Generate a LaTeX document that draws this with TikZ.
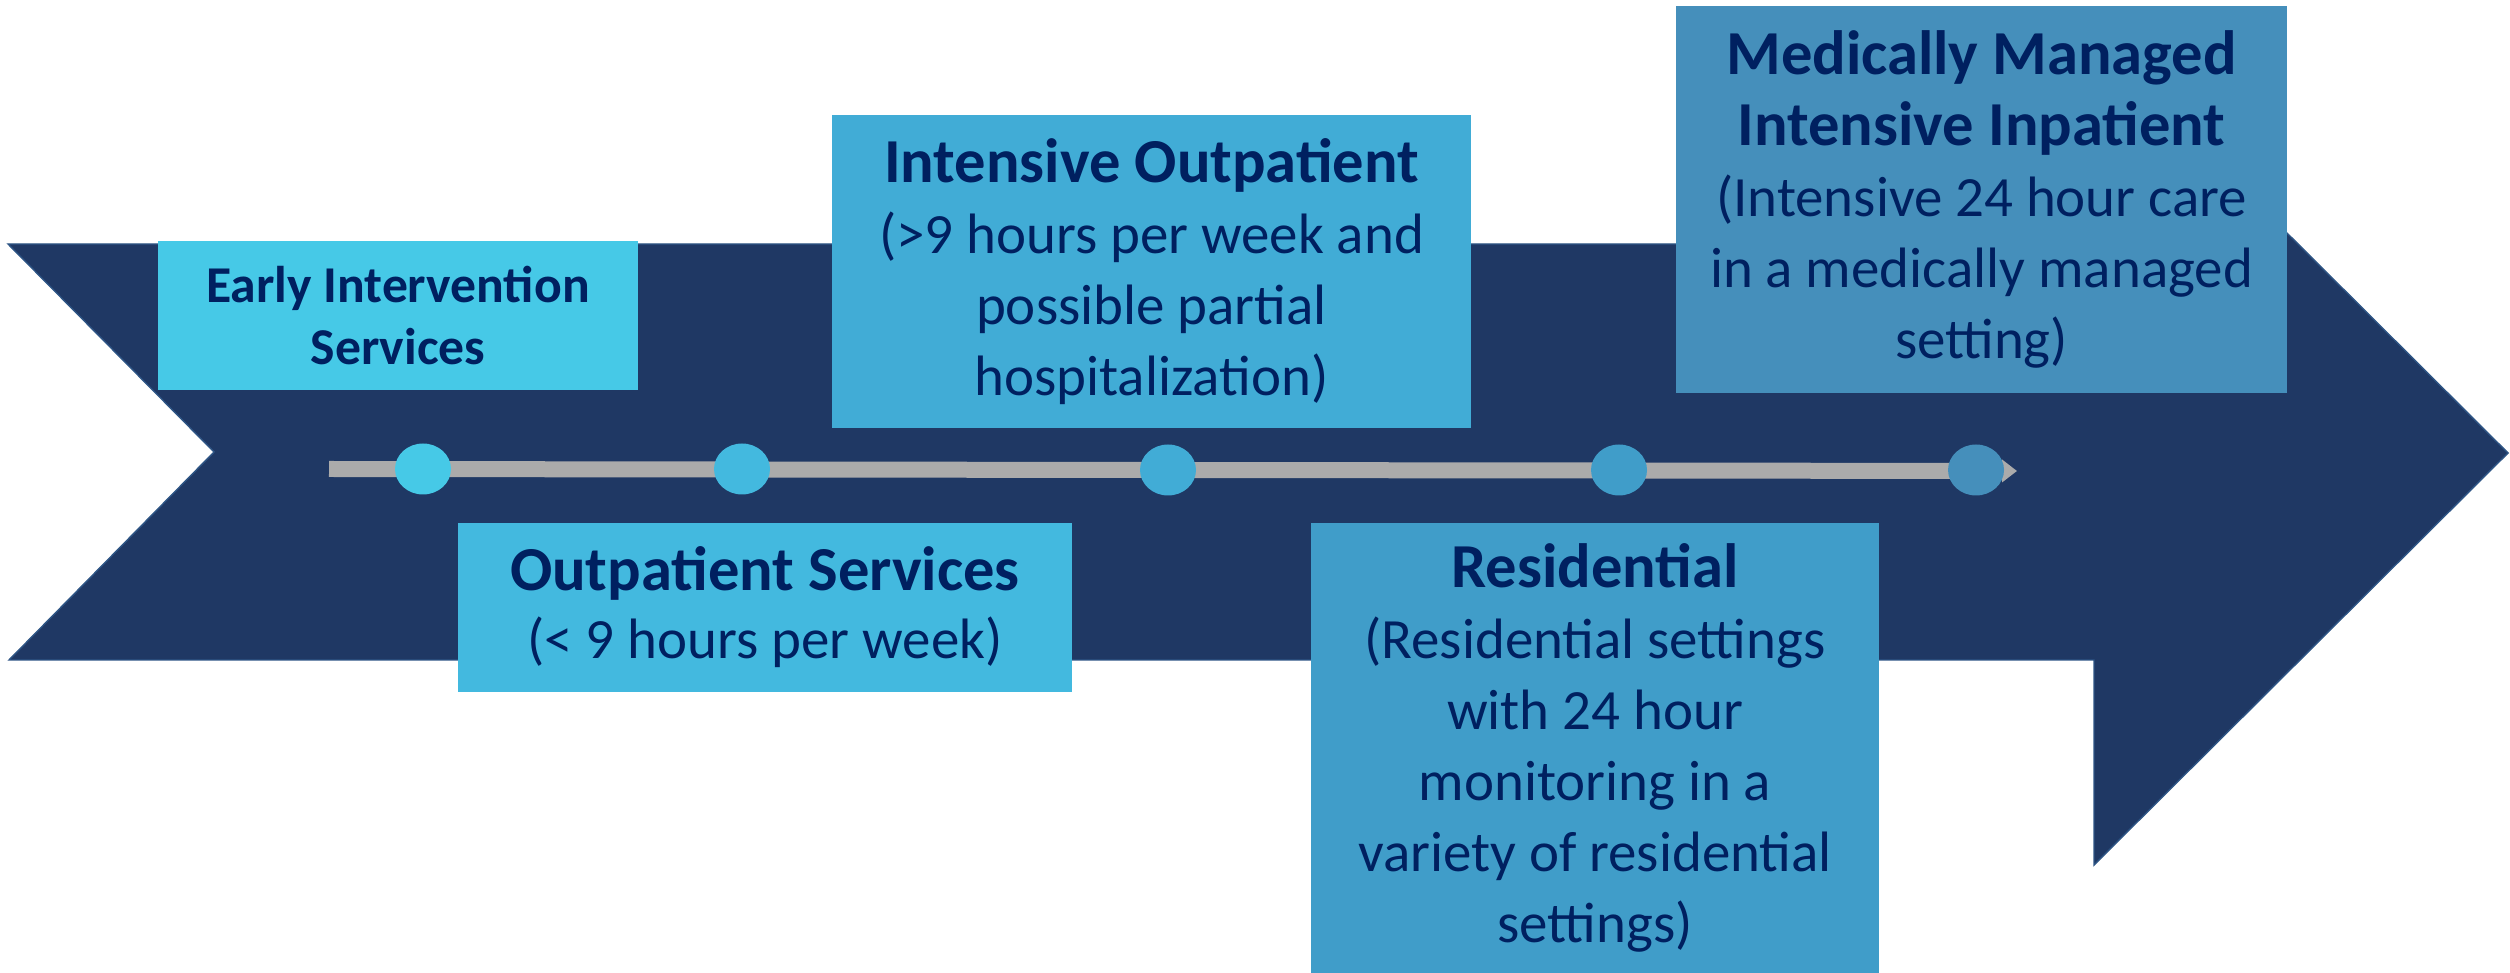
\documentclass[tikz,border=0pt]{standalone}
\usepackage{fontspec}
\setmainfont{Carlito}
\usetikzlibrary{shapes.geometric,arrows.meta}

\definecolor{arrowblue}{HTML}{1F3864}
\definecolor{arrowedge}{HTML}{2E5585}
\definecolor{textblue}{HTML}{002060}
\definecolor{bargrey}{HTML}{ABABAB}
\definecolor{earlyfill}{HTML}{46C9E7}
\definecolor{outfill}{HTML}{43B9DF}
\definecolor{iopfill}{HTML}{41ACD6}
\definecolor{resfill}{HTML}{409DC9}
\definecolor{medfill}{HTML}{458FBB}

\tikzset{
  stage/.style={rectangle, inner sep=0pt, align=center, text=textblue,
    font=\fontsize{16.2}{20.2}\selectfont},
  dot/.style={ellipse, inner sep=0pt, minimum width=5.6mm, minimum height=5.1mm},
}
\newcommand{\stagehead}[1]{{\fontsize{17.8}{20.2}\selectfont\bfseries #1}}

\begin{document}
\begin{tikzpicture}[x=0.1mm,y=-0.1mm]
\useasboundingbox (0,0) rectangle (2510,973);
% big arrow
\filldraw[fill=arrowblue, draw=arrowedge, line width=0.4pt] (8,244) -- (2094,244) -- (2094,41) -- (2508,453)
  -- (2094,865) -- (2094,660) -- (9,660) -- (214,452) -- cycle;
% time line
\coordinate (barstart) at (329,469);
\coordinate (barend) at (2017,471);
\draw[bargrey, line width=1.6mm, -{Triangle[length=1.5mm,width=2.2mm]}] (barstart) -- (barend);
\node[dot, fill=earlyfill] (d1) at (423,469) {};
\node[dot, fill=outfill] (d2) at (742,469) {};
\node[dot, fill=iopfill] (d3) at (1168,470) {};
\node[dot, fill=resfill] (d4) at (1619,470) {};
\node[dot, fill=medfill] (d5) at (1976,470) {};
% stages
\node[stage, fill=earlyfill, minimum width=48mm, minimum height=14.9mm,
  font=\fontsize{14.7}{17.9}\selectfont\bfseries] (early) at (398,315.5) {Early Intervention\\Services};
\node[stage, fill=outfill, minimum width=61.4mm, minimum height=16.9mm,
  font=\fontsize{16.2}{19.3}\selectfont] (outpat) at (765,607.5) {\stagehead{Outpatient Services}\\(< 9 hours per week)};
\node[stage, fill=iopfill, minimum width=63.9mm, minimum height=31.3mm] (iop) at (1151.5,271.5)
  {\stagehead{Intensive Outpatient}\\(>9 hours per week and\\possible partial\\hospitalization)};
\node[stage, fill=resfill, minimum width=56.8mm, minimum height=45mm] (resid) at (1595,748)
  {\stagehead{Residential}\\(Residential settings\\with 24 hour\\monitoring in a\\variety of residential\\settings)};
\node[stage, fill=medfill, minimum width=61.1mm, minimum height=38.7mm] (medic) at (1981.5,199.5)
  {\stagehead{Medically Managed}\\\stagehead{Intensive Inpatient}\\(Intensive 24 hour care\\in a medically managed\\setting)};
\end{tikzpicture}
\end{document}
